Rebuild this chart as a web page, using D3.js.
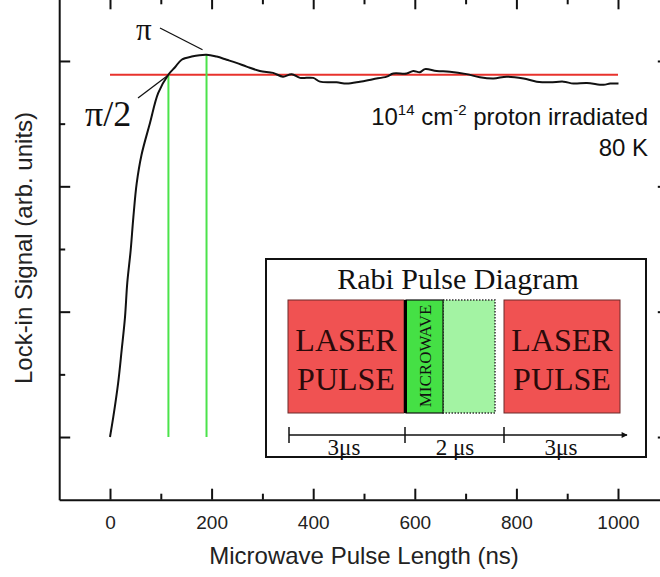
<!DOCTYPE html>
<html>
<head>
<meta charset="utf-8">
<script src="https://cdn.jsdelivr.net/npm/d3@7"></script>
<style>
  html, body { margin: 0; padding: 0; background: #fff; }
  svg { display: block; }
</style>
</head>
<body>
<svg id="chart" width="660" height="577"></svg>
<script>
// Rabi oscillation: lock-in signal vs microwave pulse length
const pulseNs = [0, 6.5, 16, 23, 29.5, 34, 40.7, 46, 52.6, 62, 78.7, 95, 114.8, 128, 141, 160.8, 190, 210, 229.7, 249, 269, 295, 321, 340.5, 357.7, 374, 400, 413.4, 446, 466, 492, 517.7, 544.7, 557.7, 584, 597, 610, 620, 643, 669, 702, 728, 755, 781, 814, 840, 866.5, 892.7, 912.4, 938.8, 971.5, 984.6, 1001];
const signal  = [0, 0.32, 0.86, 1.39, 1.91, 2.46, 2.98, 3.51, 4.05, 4.5, 5.01, 5.49, 5.78, 5.90, 6.02, 6.07, 6.10, 6.07, 6.02, 5.97, 5.91, 5.84, 5.81, 5.75, 5.79, 5.73, 5.73, 5.67, 5.66, 5.64, 5.67, 5.71, 5.75, 5.80, 5.80, 5.84, 5.82, 5.87, 5.84, 5.83, 5.79, 5.74, 5.72, 5.75, 5.72, 5.67, 5.66, 5.67, 5.64, 5.65, 5.62, 5.64, 5.64];

const xTickValues = [0, 200, 400, 600, 800, 1000];
const xMinorValues = [100, 300, 500, 700, 900];
const yMajorValues = [0, 2, 4, 6];
const yMinorValues = [1, 3, 5];

// saturation level (red) and the π/2, π pulse lengths (green markers)
const saturationLevel = 5.78;
const rangeNs = [0, 1000];
const halfPiNs = 115, halfPiSignal = 5.78;
const piNs = 190, piSignal = 6.10;

const svg = d3.select("#chart");
const x = d3.scaleLinear().domain([-100, 1100]).range([59.2, 668.8]);
const y = d3.scaleLinear().domain([-1, 7]).range([499.7, -1.7]);

const sans = "'Liberation Sans', Arial, sans-serif";
const serif = "'Liberation Serif', 'Times New Roman', serif";

function styleAxis(g) {
  g.select(".domain").attr("stroke", "#111").attr("stroke-width", 2);
  g.selectAll(".tick line").attr("stroke", "#111").attr("stroke-width", 2);
}
// bottom (major with labels, then minor)
svg.append("g").attr("transform", `translate(0,${y(-1)})`)
  .call(d3.axisBottom(x).tickValues(xTickValues).tickSizeInner(-11).tickSizeOuter(0).tickPadding(16).tickFormat(d3.format("d")))
  .call(styleAxis)
  .call(g => g.selectAll("text").attr("font-family", sans).attr("font-size", 19).attr("fill", "#222"));
svg.append("g").attr("transform", `translate(0,${y(-1)})`)
  .call(d3.axisBottom(x).tickValues(xMinorValues).tickSizeInner(-6).tickSizeOuter(0).tickFormat(""))
  .call(styleAxis).call(g => g.select(".domain").remove());
// top
svg.append("g").attr("transform", `translate(0,${y(7)})`)
  .call(d3.axisTop(x).tickValues(xTickValues).tickSizeInner(-11).tickSizeOuter(0).tickFormat(""))
  .call(styleAxis);
svg.append("g").attr("transform", `translate(0,${y(7)})`)
  .call(d3.axisTop(x).tickValues(xMinorValues).tickSizeInner(-6).tickSizeOuter(0).tickFormat(""))
  .call(styleAxis).call(g => g.select(".domain").remove());
// left
svg.append("g").attr("transform", `translate(${x(-100)},0)`)
  .call(d3.axisLeft(y).tickValues(yMajorValues).tickSizeInner(-11).tickSizeOuter(0).tickFormat(""))
  .call(styleAxis);
svg.append("g").attr("transform", `translate(${x(-100)},0)`)
  .call(d3.axisLeft(y).tickValues(yMinorValues).tickSizeInner(-6).tickSizeOuter(0).tickFormat(""))
  .call(styleAxis).call(g => g.select(".domain").remove());
// right
svg.append("g").attr("transform", `translate(${x(1100)},0)`)
  .call(d3.axisRight(y).tickValues(yMajorValues).tickSizeInner(-11).tickSizeOuter(0).tickFormat(""))
  .call(styleAxis);

// axis titles
svg.append("text")
  .attr("x", 364).attr("y", 564)
  .attr("text-anchor", "middle")
  .attr("font-family", sans).attr("font-size", 24).attr("fill", "#222")
  .text("Microwave Pulse Length (ns)");
svg.append("text")
  .attr("transform", `translate(32,248) rotate(-90)`)
  .attr("text-anchor", "middle")
  .attr("font-family", sans).attr("font-size", 24).attr("fill", "#222")
  .text("Lock-in Signal (arb. units)");

// --- reference lines ---
svg.append("line")
  .attr("x1", x(rangeNs[0])).attr("x2", x(rangeNs[1]))
  .attr("y1", y(saturationLevel)).attr("y2", y(saturationLevel))
  .attr("stroke", "#e8322c").attr("stroke-width", 2);
[[halfPiNs, halfPiSignal], [piNs, piSignal]].forEach(([ns, s]) => {
  svg.append("line")
    .attr("x1", x(ns)).attr("x2", x(ns))
    .attr("y1", y(0)).attr("y2", y(s))
    .attr("stroke", "#4be34b").attr("stroke-width", 2);
});

// --- measured trace ---
const pts = pulseNs.map((t, i) => [t, signal[i]]);
svg.append("path")
  .datum(pts)
  .attr("fill", "none")
  .attr("stroke", "#111")
  .attr("stroke-width", 2)
  .attr("stroke-linejoin", "round")
  .attr("d", d3.line().x(d => x(d[0])).y(d => y(d[1])).curve(d3.curveCatmullRom.alpha(0.5)));

// --- π and π/2 annotations ---
svg.append("text")
  .attr("x", 136).attr("y", 40)
  .attr("font-family", serif).attr("font-size", 31).attr("fill", "#111")
  .text("π");
svg.append("line")
  .attr("x1", 160).attr("y1", 28).attr("x2", x(piNs) - 4).attr("y2", y(piSignal) - 5)
  .attr("stroke", "#111").attr("stroke-width", 1.3);
svg.append("text")
  .attr("x", 85).attr("y", 126)
  .attr("font-family", serif).attr("font-size", 36).attr("fill", "#111")
  .text("π/2");
svg.append("line")
  .attr("x1", 138).attr("y1", 98).attr("x2", x(halfPiNs) - 1).attr("y2", y(halfPiSignal) + 1)
  .attr("stroke", "#111").attr("stroke-width", 1.3);

// sample description
const desc = svg.append("text")
  .attr("x", 648).attr("y", 125)
  .attr("text-anchor", "end")
  .attr("font-family", sans).attr("font-size", 24).attr("fill", "#111");
desc.append("tspan").text("10");
desc.append("tspan").attr("dy", -10).attr("font-size", 15).text("14");
desc.append("tspan").attr("dy", 10).text(" cm");
desc.append("tspan").attr("dy", -10).attr("font-size", 15).text("-2");
desc.append("tspan").attr("dy", 10).text(" proton irradiated");
svg.append("text")
  .attr("x", 648).attr("y", 156)
  .attr("text-anchor", "end")
  .attr("font-family", sans).attr("font-size", 24).attr("fill", "#111")
  .text("80 K");

// --- inset: pulse sequence diagram ---
const inset = svg.append("g");
inset.append("rect")
  .attr("x", 266).attr("y", 259).attr("width", 380).attr("height", 198)
  .attr("fill", "#fff").attr("stroke", "#111").attr("stroke-width", 2);
inset.append("text")
  .attr("x", 458).attr("y", 289)
  .attr("text-anchor", "middle")
  .attr("font-family", serif).attr("font-size", 30).attr("fill", "#111")
  .text("Rabi Pulse Diagram");

const boxTop = 300, boxH = 113;
function laser(x0, w) {
  inset.append("rect").attr("x", x0).attr("y", boxTop).attr("width", w).attr("height", boxH)
    .attr("fill", "#f05252").attr("stroke", "#6b2a2a").attr("stroke-width", 1);
  const t = inset.append("text").attr("text-anchor", "middle")
    .attr("font-family", serif).attr("font-size", 32).attr("fill", "#2a0a0a");
  t.append("tspan").attr("x", x0 + w / 2).attr("y", 351).text("LASER");
  t.append("tspan").attr("x", x0 + w / 2).attr("y", 390).text("PULSE");
}
laser(288, 116);
laser(504, 116);

// variable-length window (dotted) and microwave pulse
inset.append("rect").attr("x", 443).attr("y", boxTop).attr("width", 52).attr("height", boxH)
  .attr("fill", "#a3f3a3").attr("stroke", "#333").attr("stroke-width", 1.5)
  .attr("stroke-dasharray", "1.5,1.5");
inset.append("rect").attr("x", 406).attr("y", boxTop).attr("width", 37).attr("height", boxH)
  .attr("fill", "#45e045").attr("stroke", "#111").attr("stroke-width", 1.2);
inset.append("line").attr("x1", 405.5).attr("x2", 405.5).attr("y1", boxTop).attr("y2", boxTop + boxH)
  .attr("stroke", "#000").attr("stroke-width", 3);
inset.append("text")
  .attr("transform", `translate(431,356) rotate(-90)`)
  .attr("text-anchor", "middle")
  .attr("font-family", serif).attr("font-size", 17).attr("fill", "#111")
  .text("MICROWAVE");

// timeline
const timeY = 435;
inset.append("defs").append("marker")
  .attr("id", "arrow").attr("viewBox", "0 0 10 10").attr("refX", 9).attr("refY", 5)
  .attr("markerWidth", 8).attr("markerHeight", 6).attr("markerUnits", "userSpaceOnUse")
  .attr("orient", "auto")
  .append("path").attr("d", "M0,0 L10,5 L0,10 z").attr("fill", "#111");
inset.append("line").attr("x1", 289).attr("x2", 627).attr("y1", timeY).attr("y2", timeY)
  .attr("stroke", "#111").attr("stroke-width", 1.5).attr("marker-end", "url(#arrow)");
[289, 405, 504].forEach(px => {
  inset.append("line").attr("x1", px).attr("x2", px).attr("y1", timeY - 8).attr("y2", timeY + 8)
    .attr("stroke", "#111").attr("stroke-width", 1.5);
});
const durations = ["3μs", "2 μs", "3μs"];
const durCenters = [344, 455, 561];
durations.forEach((d, i) => {
  inset.append("text")
    .attr("x", durCenters[i]).attr("y", 455)
    .attr("text-anchor", "middle")
    .attr("font-family", serif).attr("font-size", 23).attr("fill", "#111")
    .text(d);
});
</script>
</body>
</html>
